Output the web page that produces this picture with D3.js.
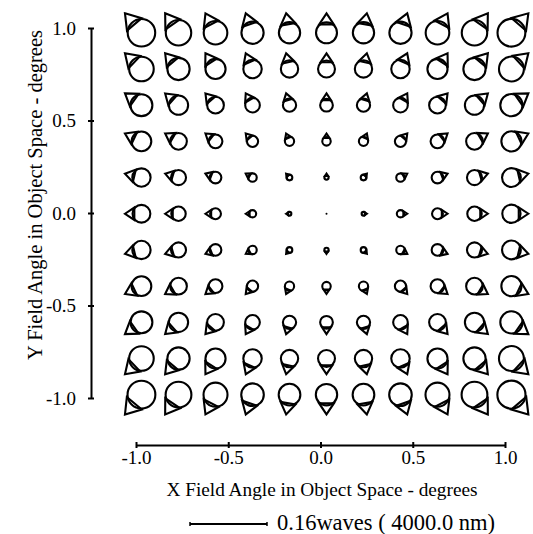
<!DOCTYPE html>
<html>
<head>
<meta charset="utf-8">
<script src="https://cdn.jsdelivr.net/npm/d3@7"></script>
<style>
  body { margin: 0; background: #fff; }
  text { font-family: "Liberation Serif", "Times New Roman", serif; fill: #000; }
</style>
</head>
<body>
<div id="container"></div>
<script>
// field grid (degrees), columns left to right, rows top to bottom
const fieldX = [-1.0, -0.8, -0.6, -0.4, -0.2, 0.0, 0.2, 0.4, 0.6, 0.8, 1.0];
const fieldY = [1.0, 0.8, 0.6, 0.4, 0.2, 0.0, -0.2, -0.4, -0.6, -0.8, -1.0];
// coma components in waves (x per column, y per row)
const comaX = [-0.0185, -0.0150, -0.0113, -0.0076, -0.0038, 0.0, 0.0038, 0.0076, 0.0113, 0.0150, 0.0190];
const comaY = [0.0218, 0.0176, 0.0132, 0.0088, 0.0044, 0.0, -0.0044, -0.0088, -0.0132, -0.0176, -0.0222];
const tickValues = [-1.0, -0.5, 0.0, 0.5, 1.0];
const scaleWaves = 0.16;
const scaleLabel = '0.16waves ( 4000.0 nm)';
const xTitle = 'X Field Angle in Object Space - degrees';
const yTitle = 'Y Field Angle in Object Space - degrees';

const width = 533, height = 534;
const svg = d3.select('#container').append('svg')
  .attr('width', width)
  .attr('height', height);

// axis scales and glyph placement scales
const x = d3.scaleLinear().domain([-1, 1]).range([136, 505]);
const y = d3.scaleLinear().domain([-1, 1]).range([398, 28]);
const gx = d3.scaleLinear().domain([-1, 1]).range([137, 516]);
const gy = d3.scaleLinear().domain([-1, 1]).range([400, 27.5]);
const waves = d3.scaleLinear().domain([0, scaleWaves]).range([0, 77]);
const fmt = function (d) { return d3.format('.1f')(d).replace('\u2212', '-'); };

const cells = [];
fieldY.forEach(function (fy, i) {
  fieldX.forEach(function (fx, j) {
    cells.push({ fx: fx, fy: fy, cx: comaX[j], cy: comaY[i] });
  });
});

// triangle geometry relative to the circle radius
const apexDist = 1.85, baseDist = 0.8, baseHalf = 0.7;

const glyph = svg.append('g').attr('class', 'glyphs')
  .selectAll('.glyph')
  .data(cells)
  .enter().append('g')
  .attr('class', 'glyph');

glyph.each(function (d) {
  const g = d3.select(this);
  const mag = Math.sqrt(d.cx * d.cx + d.cy * d.cy);
  const r = waves(mag);
  const px = gx(d.fx), py = gy(d.fy);
  if (r < 0.5) {
    g.append('circle').attr('cx', px).attr('cy', py).attr('r', 1).style('fill', '#000');
    return;
  }
  const th = Math.atan2(-d.cy, d.cx);
  const ux = Math.cos(th), uy = Math.sin(th);
  const vx = -uy, vy = ux;
  const cx = px - 0.5 * r * ux, cy = py - 0.5 * r * uy;
  const ax = cx + apexDist * r * ux, ay = cy + apexDist * r * uy;
  const bx = cx + baseDist * r * ux, by = cy + baseDist * r * uy;
  const t1 = [bx + baseHalf * r * vx, by + baseHalf * r * vy];
  const t2 = [bx - baseHalf * r * vx, by - baseHalf * r * vy];
  g.append('circle')
    .attr('cx', cx).attr('cy', cy).attr('r', r)
    .style('fill', 'none').style('stroke', '#000').style('stroke-width', 2.1);
  g.append('path')
    .attr('d', 'M' + ax + ',' + ay + 'L' + t1[0] + ',' + t1[1] + 'L' + t2[0] + ',' + t2[1] + 'Z')
    .style('fill', 'none').style('stroke', '#000').style('stroke-width', 2.1)
    .style('stroke-linejoin', 'miter');
});

// y axis
const yAxis = svg.append('g')
  .attr('transform', 'translate(91,0)')
  .call(d3.axisLeft(y).tickValues(tickValues).tickFormat(fmt).tickSizeOuter(0).tickSizeInner(3));
yAxis.select('.domain').style('stroke-width', 2);
yAxis.selectAll('.tick line').attr('x1', 3).attr('x2', -3).style('stroke-width', 2);
yAxis.selectAll('.tick text')
  .attr('x', -15).attr('dy', '0.33em')
  .style('font-size', '19px')
  .style('font-family', '"Liberation Serif", serif');

// x axis
const xAxis = svg.append('g')
  .attr('transform', 'translate(0,445)')
  .call(d3.axisBottom(x).tickValues(tickValues).tickFormat(fmt).tickSizeOuter(0).tickSizeInner(3));
xAxis.select('.domain').style('stroke-width', 2);
xAxis.selectAll('.tick text')
  .attr('y', 18.5).attr('dy', 0)
  .style('font-size', '19px')
  .style('font-family', '"Liberation Serif", serif');
xAxis.selectAll('.tick line').attr('y1', -3).attr('y2', 3).style('stroke-width', 2);

svg.append('text')
  .attr('x', 322).attr('y', 496)
  .attr('text-anchor', 'middle')
  .style('font-size', '19.3px')
  .text(xTitle);

svg.append('text')
  .attr('transform', 'translate(42,195) rotate(-90)')
  .attr('text-anchor', 'middle')
  .style('font-size', '20.5px')
  .text(yTitle);

// scale bar
const bar = svg.append('g').attr('transform', 'translate(190,524)');
bar.append('line')
  .attr('x1', 0).attr('x2', waves(scaleWaves))
  .attr('y1', 0).attr('y2', 0)
  .style('stroke', '#000').style('stroke-width', 2);
[0, waves(scaleWaves)].forEach(function (v) {
  bar.append('line')
    .attr('x1', v).attr('x2', v).attr('y1', -2).attr('y2', 2)
    .style('stroke', '#000').style('stroke-width', 1.5);
});
svg.append('text')
  .attr('x', 277).attr('y', 530)
  .style('font-size', '22.5px')
  .text(scaleLabel);
</script>
</body>
</html>
